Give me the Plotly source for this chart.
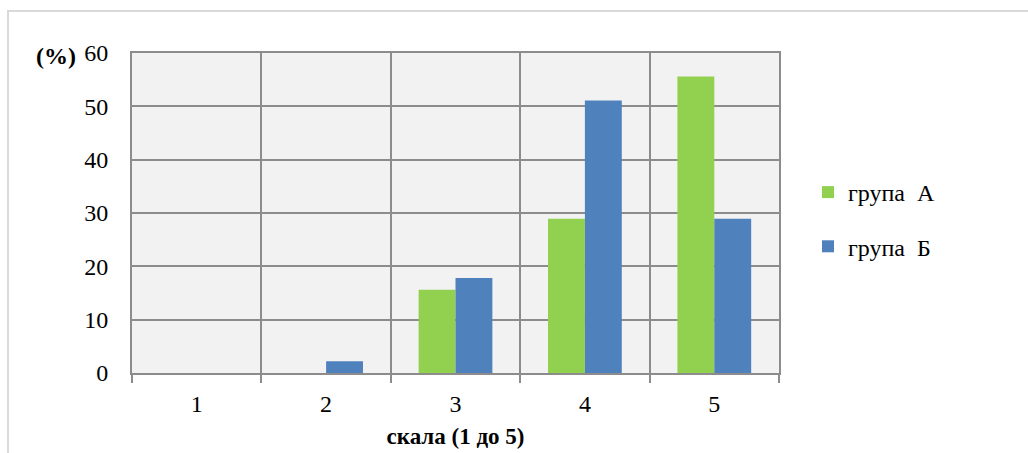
import plotly.graph_objects as go

categories = [1, 2, 3, 4, 5]
tick_labels = ["1", "2", "3", "4", "5"]
group_a = [0, 0, 15.6, 28.9, 55.6]
group_b = [0, 2.2, 17.8, 51.1, 28.9]
series_names = ["група\u00a0 А", "група\u00a0 Б"]
y_ticks = [0, 10, 20, 30, 40, 50, 60]

FONT = "serif"
GRID = "#8c8c8c"

fig = go.Figure()
fig.add_trace(go.Bar(x=categories, y=group_a, name=series_names[0],
                     marker=dict(color="#92D050", line=dict(width=0)),
                     legendgroup="a"))
fig.add_trace(go.Bar(x=categories, y=group_b, name=series_names[1],
                     marker=dict(color="#4F81BD", line=dict(width=0)),
                     legendgroup="b"))

L, R, T, B = 132, 249, 53, 80
W, H = 1028, 453
pw, ph = W - L - R, H - T - B

fig.update_layout(
    width=W, height=H,
    margin=dict(l=L, r=R, t=T, b=B, autoexpand=False),
    paper_bgcolor="white",
    plot_bgcolor="#f2f2f2",
    barmode="group",
    bargap=0.43,
    bargroupgap=0,
    font=dict(family=FONT, color="black", size=24),
    showlegend=True,
    legend=dict(x=(808 - L) / pw, y=(H - B - 170) / ph, xanchor="left", yanchor="top",
                font=dict(family=FONT, size=24, color="black"),
                tracegroupgap=20, bgcolor="rgba(0,0,0,0)"),
    xaxis=dict(
        range=[0.5, 5.5], tickvals=categories, ticktext=tick_labels,
        showgrid=False, ticks="", zeroline=False, automargin=False,
        showline=True, linecolor=GRID, linewidth=2, mirror=True,
        tickfont=dict(family=FONT, size=24), ticklabelstandoff=8,
        minor=dict(tick0=0.5, dtick=1, showgrid=True, gridcolor=GRID, gridwidth=2,
                   ticks="outside", ticklen=8, tickcolor=GRID, tickwidth=2),
        title=dict(text="<b>скала (1 до 5)</b>", font=dict(family=FONT, size=23), standoff=12),
    ),
    yaxis=dict(
        range=[0, 60], tickvals=y_ticks, showgrid=True, gridcolor=GRID, gridwidth=2,
        zeroline=False, showline=True, linecolor=GRID, linewidth=2, mirror=True,
        ticks="", ticklabelstandoff=17, automargin=False,
        tickfont=dict(family=FONT, size=24),
    ),
    shapes=[dict(type="rect", xref="paper", yref="paper",
                 x0=(8 - L) / pw, x1=(W + 20 - L) / pw,
                 y0=(H - B - (H + 20)) / ph, y1=(H - B - 11) / ph,
                 line=dict(color="#d9d9d9", width=2), fillcolor="rgba(0,0,0,0)", layer="below")],
    annotations=[dict(text="<b>(%)</b>", xref="paper", yref="paper",
                      x=(34 - L) / pw, y=(H - B - 56) / ph, xanchor="left", yanchor="middle",
                      showarrow=False, font=dict(family=FONT, size=24, color="black"))],
)

fig.write_html("out.html")
